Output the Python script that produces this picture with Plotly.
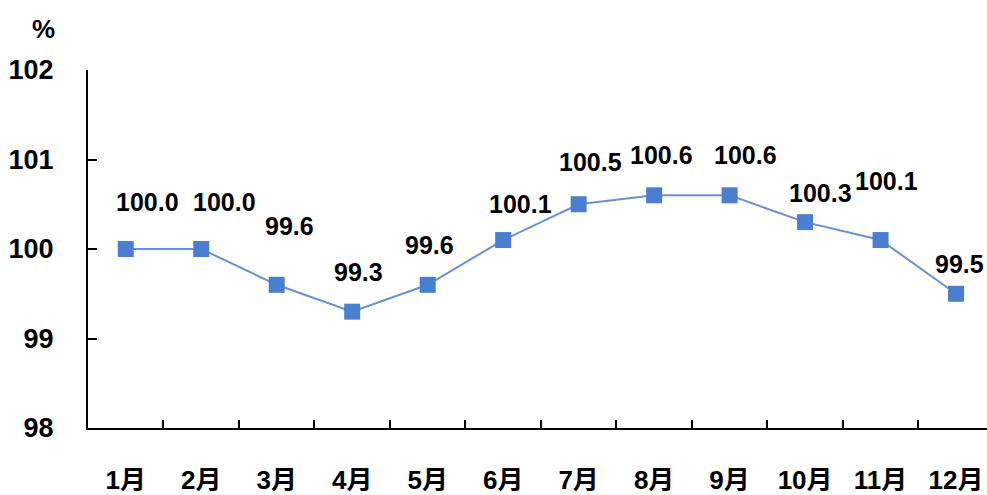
import plotly.graph_objects as go

months = ["1月", "2月", "3月", "4月", "5月", "6月", "7月", "8月", "9月", "10月", "11月", "12月"]
values = [100.0, 100.0, 99.6, 99.3, 99.6, 100.1, 100.5, 100.6, 100.6, 100.3, 100.1, 99.5]
y_ticks = [98, 99, 100, 101, 102]

# label offsets (style only)
label_dx = [22, 23, 13, 6, 2, 17, 12, 7, 16, 15, 6, 3]
label_dy = [47, 47, 59, 40, 40, 36, 42, 40, 40, 29, 59, 30]

FONT = "Liberation Sans, Arial, Noto Sans CJK SC, sans-serif"

fig = go.Figure()
fig.add_trace(go.Scatter(
    x=months, y=values, mode="lines+markers",
    line=dict(color="#6B8FD3", width=2),
    marker=dict(symbol="square", size=16, color="#4A7ED0"),
    hoverinfo="skip",
))

for m, v, dx, dy in zip(months, values, label_dx, label_dy):
    fig.add_annotation(
        x=m, y=v, text=f"{v:.1f}", showarrow=False,
        xshift=dx, yshift=dy,
        font=dict(family=FONT, size=25, color="black", weight="bold"),
    )

fig.add_annotation(
    xref="paper", yref="paper", x=-0.05, y=1.115, xanchor="center", yanchor="middle",
    text="%", showarrow=False,
    font=dict(family=FONT, size=26, color="black", weight="bold"),
)

fig.update_layout(
    width=987, height=495,
    margin=dict(l=88, r=0, t=70, b=65),
    paper_bgcolor="white", plot_bgcolor="white",
    showlegend=False,
    xaxis=dict(
        type="category", categoryorder="array", categoryarray=months,
        range=[-0.5, 11.41],
        showline=True, linecolor="black", linewidth=2,
        ticks="inside", tickson="boundaries", ticklen=8, tickwidth=1.5, tickcolor="black",
        showgrid=False, zeroline=False,
        tickfont=dict(family=FONT, size=26, color="black", weight="bold"),
        ticklabelstandoff=28,
    ),
    yaxis=dict(
        range=[98, 102], tickvals=y_ticks, ticktext=[str(t) for t in y_ticks],
        showline=True, linecolor="black", linewidth=2,
        ticks="inside", ticklen=9, tickwidth=1.5, tickcolor="black",
        showgrid=False, zeroline=False,
        tickfont=dict(family=FONT, size=27, color="black", weight="bold"),
        ticklabelstandoff=27,
    ),
)

fig.write_html("out.html")
